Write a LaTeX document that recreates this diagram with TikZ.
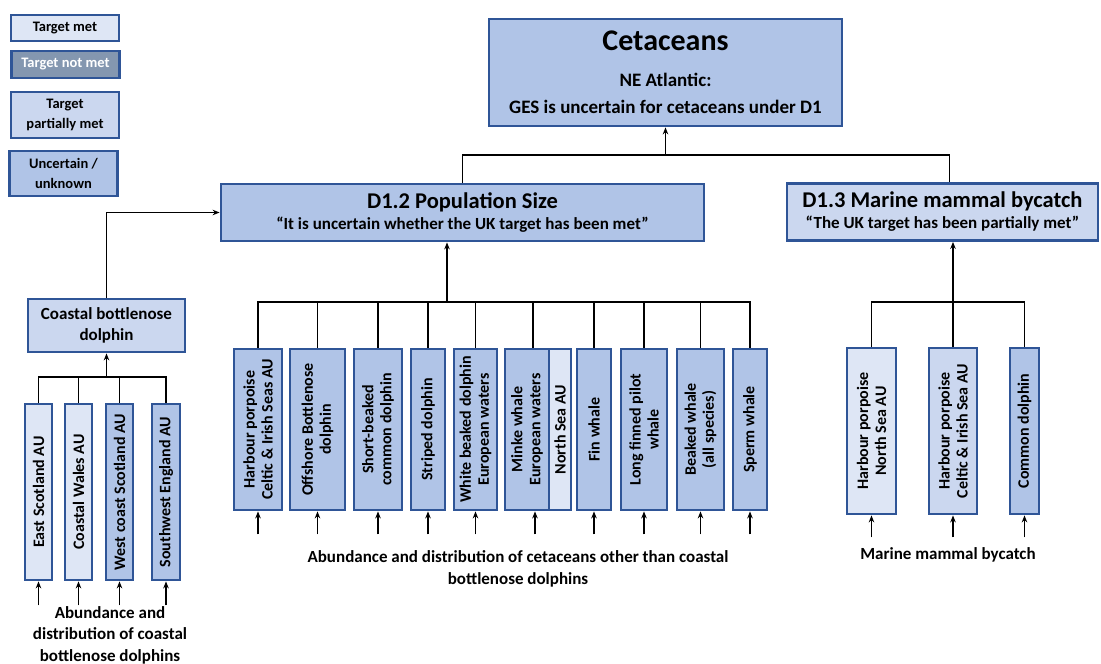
\documentclass[tikz,border=0pt]{standalone}
\usepackage{fontspec}
\setmainfont{Carlito}
\usetikzlibrary{arrows.meta}

\definecolor{met}{RGB}{222,230,245}
\definecolor{notmet}{RGB}{132,151,176}
\definecolor{partial}{RGB}{203,215,239}
\definecolor{unc}{RGB}{176,196,231}
\definecolor{edge}{RGB}{47,85,151}

\begin{document}
\begin{tikzpicture}[x=1pt,y=1pt,
  box/.style={draw=edge,line width=2.8pt,inner sep=0pt,align=center},
  vbox/.style={box,rotate=90,font=\fontsize{16}{18}\selectfont\bfseries},
  legend/.style={box,minimum width=108,font=\fontsize{14.5}{19.5}\selectfont\bfseries},
  link/.style={line width=1.8pt},
  arr/.style={link,-{Stealth[length=7pt,width=5.5pt]}},
  caption/.style={align=center,font=\fontsize{17}{21.5}\selectfont\bfseries}]

\useasboundingbox (0,0) rectangle (1101,-664);

% Legend
\node[legend,fill=met,minimum height=26] (lgmet) at (65,-28) {Target met};
\node[legend,fill=notmet,text=white,minimum height=27] (lgnot) at (65.5,-64.5) {Target not met};
\node[legend,fill=partial,minimum height=46] (lgpart) at (65,-115) {Target\\partially met};
\node[legend,fill=unc,minimum height=45] (lgunc) at (63.5,-173.5) {Uncertain /\\unknown};

% Top of the tree
\node[box,fill=unc,minimum width=353,minimum height=107,
  font=\fontsize{19}{27}\selectfont\bfseries] (cet) at (665.5,-72.5)
  {{\fontsize{30}{30}\selectfont Cetaceans}\\[9pt]NE Atlantic:\\GES is uncertain for cetaceans under D1};

% Criteria
\node[box,fill=unc,minimum width=483,minimum height=57,
  font=\fontsize{17}{21}\selectfont\bfseries] (d12) at (462.5,-212.5)
  {{\fontsize{22.5}{22.5}\selectfont D1.2 Population Size}\\“It is uncertain whether the UK target has been met”};
\node[box,fill=partial,minimum width=311,minimum height=57,
  font=\fontsize{17}{21}\selectfont\bfseries] (d13) at (942.5,-212)
  {{\fontsize{22.5}{22.5}\selectfont D1.3 Marine mammal bycatch}\\“The UK target has been partially met”};

% Coastal bottlenose dolphin
\node[box,fill=partial,minimum width=157,minimum height=53,
  font=\fontsize{17}{21}\selectfont\bfseries] (cbd) at (106.5,-325.5) {Coastal bottlenose\\dolphin};
\node[vbox,fill=met,minimum width=176,minimum height=27] (es) at (38.5,-492) {East Scotland AU};
\node[vbox,fill=met,minimum width=176,minimum height=27] (cw) at (78.5,-492) {Coastal Wales AU};
\node[vbox,fill=unc,minimum width=176,minimum height=27] (wcs) at (119.5,-492) {West coast Scotland AU};
\node[vbox,fill=unc,minimum width=176,minimum height=28] (swe) at (166,-492) {Southwest England AU};

% Other cetaceans
\node[vbox,fill=unc,minimum width=161,minimum height=48] (hp1) at (258,-429.5) {Harbour porpoise\\Celtic \& Irish Seas AU};
\node[vbox,fill=unc,minimum width=161,minimum height=55] (obd) at (317.5,-429.5) {Offshore Bottlenose\\dolphin};
\node[vbox,fill=unc,minimum width=161,minimum height=48] (sbc) at (378,-429.5) {Short-beaked\\common dolphin};
\node[vbox,fill=unc,minimum width=161,minimum height=34] (strd) at (428,-429.5) {Striped dolphin};
\node[vbox,fill=unc,minimum width=161,minimum height=43] (wbd) at (475.5,-429.5) {White beaked dolphin\\European waters};
\node[vbox,fill=unc,minimum width=161,minimum height=44] (minke) at (527,-429.5) {Minke whale\\European waters};
\node[vbox,fill=met,minimum width=161,minimum height=22] (nsau) at (560,-429.5) {North Sea AU};
\node[vbox,fill=unc,minimum width=161,minimum height=34] (fin) at (594,-429.5) {Fin whale};
\node[vbox,fill=unc,minimum width=161,minimum height=46] (lfp) at (644,-429.5) {Long finned pilot\\whale};
\node[vbox,fill=unc,minimum width=161,minimum height=47] (bkw) at (700.5,-429.5) {Beaked whale\\(all species)};
\node[vbox,fill=unc,minimum width=161,minimum height=34] (spw) at (750,-429.5) {Sperm whale};

% Bycatch
\node[vbox,fill=met,minimum width=166,minimum height=49] (hpns) at (871.5,-431) {Harbour porpoise\\North Sea AU};
\node[vbox,fill=partial,minimum width=166,minimum height=48] (hpci) at (953,-431) {Harbour porpoise\\Celtic \& Irish Sea AU};
\node[vbox,fill=unc,minimum width=166,minimum height=29] (cmd) at (1024.5,-431) {Common dolphin};

% Captions
\node[caption] (capc) at (110,-635) {Abundance and\\distribution of coastal\\bottlenose dolphins};
\node[caption] (capm) at (518,-569) {Abundance and distribution of cetaceans other than coastal\\bottlenose dolphins};
\node[caption] (capr) at (948,-555) {Marine mammal bycatch};

% Connectors: criteria to top
\coordinate (tbar) at (665.5,-155);
\draw[arr] (tbar) -- (cet.south);
\draw[link] (d12.north) |- (tbar) -| ([xshift=7]d13.north);

% coastal to D1.2
\draw[arr] (cbd.north) |- (d12.west);
\coordinate (cbar) at (106.5,-377);
\draw[arr] (cbar) -- (cbd.south);
\draw[link] (es.east) |- (cbar) -| (swe.east);
\foreach \n in {cw,wcs}
  \draw[link] (\n.east) -- (\n.east |- cbar);
\foreach \n in {es,cw,wcs,swe}
  \draw[arr] ([yshift=-24]\n.west) -- (\n.west);

% other cetaceans to D1.2
\coordinate (mbar) at (447,-302);
\draw[arr] (mbar) -- ([xshift=-15.5]d12.south);
\draw[link] (hp1.east) |- (mbar) -| (spw.east);
\foreach \n in {obd,sbc,strd,wbd,fin,lfp,bkw}
  \draw[link] (\n.east) -- (\n.east |- mbar);
\draw[link] ([xshift=6]minke.east) -- ([xshift=6]minke.east |- mbar);
\foreach \n in {hp1,obd,sbc,strd,wbd,fin,lfp,bkw,spw}
  \draw[arr] ([yshift=-23]\n.west) -- (\n.west);
\draw[arr] ([xshift=8,yshift=-23]minke.west) -- ([xshift=8]minke.west);

% bycatch to D1.3
\coordinate (rbar) at (953,-302);
\draw[link] (hpns.east) |- (rbar) -| (cmd.east);
\draw[arr] (hpci.east) -- (hpci.east |- d13.south);
\foreach \n in {hpns,hpci,cmd}
  \draw[arr] ([yshift=-22]\n.west) -- (\n.west);

\end{tikzpicture}
\end{document}
